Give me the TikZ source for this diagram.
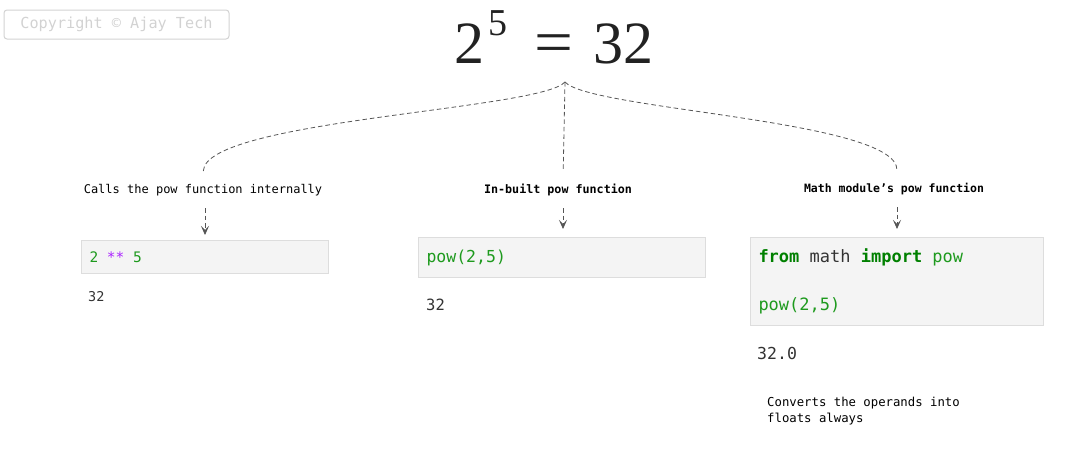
\documentclass[tikz,border=0pt]{standalone}
\usepackage{fontspec}
\setmainfont{Liberation Serif}
\setmonofont{DejaVu Sans Mono}[WordSpace={1,0,0}]
\usetikzlibrary{arrows.meta, positioning}
\definecolor{codebg}{HTML}{F4F4F4}
\definecolor{codeline}{HTML}{DDDDDD}
\definecolor{codegreen}{HTML}{1E9A1E}
\definecolor{kwgreen}{HTML}{008000}
\definecolor{oppurple}{HTML}{AA22FF}
\definecolor{plain}{HTML}{333333}
\definecolor{linkgray}{HTML}{555555}
\definecolor{markgray}{HTML}{D2D2D2}
\definecolor{eqgray}{HTML}{222222}
\tikzset{
  codebox/.style={rectangle, draw=codeline, fill=codebg, line width=1pt, anchor=north west,
                  inner xsep=8pt, align=left, font=\ttfamily,
                  execute at begin node={\spaceskip=0pt\xspaceskip=0pt\relax}},
  note/.style={font=\ttfamily\fontsize{12}{16}\selectfont, inner sep=2pt},
  result/.style={anchor=west, inner sep=0pt, text=plain, font=\ttfamily},
  link/.style={draw=linkgray, line width=0.8pt, dash pattern=on 4.5pt off 3pt},
  arrow/.style={link, -{Stealth[length=9pt, width=8pt, inset=4pt, fill=linkgray]}}
}

\begin{document}
\begin{tikzpicture}[x=1pt, y=-1pt]
\useasboundingbox (0,0) rectangle (1072,455);

% watermark
\node (mark) [draw=markgray, line width=1pt, rounded corners=3pt, minimum width=225pt, minimum height=29pt,
      text=markgray, font=\ttfamily\fontsize{15.2}{17}\selectfont] at (116.5,24.5) {Copyright © Ajay Tech};

% equation
\node (eq) [inner sep=0pt, anchor=base, text=eqgray, font=\fontsize{60}{60}\selectfont] at (554,63)
  {2\hspace{4pt}\raisebox{28pt}{\fontsize{38}{38}\selectfont 5}\hspace{27pt}\scalebox{1.15}[1.05]{=}\hspace{20pt}32};
\coordinate (fork) at (565,82);

% labels
\node (lbl1) [note] at (203,190) {Calls the pow function internally};
\node (lbl2) [note, font=\ttfamily\bfseries\fontsize{11.7}{16}\selectfont] at (558,190) {In-built pow function};
\node (lbl3) [note, font=\ttfamily\bfseries\fontsize{11.5}{16}\selectfont] at (894,189) {Math module’s pow function};

% code boxes
\node (box1) [codebox, minimum width=247pt, minimum height=33pt, text width=231pt,
      font=\ttfamily\fontsize{14.5}{18}\selectfont] at (81,240)
  {\textcolor{codegreen}{2} \textcolor{oppurple}{**} \textcolor{codegreen}{5}};
\node (box2) [codebox, minimum width=287pt, minimum height=40pt, text width=271pt,
      font=\ttfamily\fontsize{16.5}{20}\selectfont] at (418,237)
  {\textcolor{codegreen}{pow(2,5)}};
\node (box3) [codebox, minimum width=293pt, minimum height=88pt, text width=277pt,
      font=\ttfamily\fontsize{17}{48}\selectfont] at (750,237)
  {\textcolor{kwgreen}{\bfseries from} \textcolor{plain}{math} \textcolor{kwgreen}{\bfseries import} \textcolor{codegreen}{pow}\\
   \textcolor{codegreen}{pow(2,5)}};

% outputs
\node (res1) [result, font=\ttfamily\fontsize{13.5}{16}\selectfont] at (88,297) {32};
\node (res2) [result, font=\ttfamily\fontsize{15.5}{18}\selectfont] at (426,305) {32};
\node (res3) [result, font=\ttfamily\fontsize{16.5}{20}\selectfont] at (757,353) {32.0};
\node (remark) [note, anchor=north west, align=left, font=\ttfamily\fontsize{12.3}{16}\selectfont,
      execute at begin node={\spaceskip=0pt\xspaceskip=0pt\relax}] at (765,395)
  {Converts the operands into\\floats always};

% dashed branches
\draw [link, shorten >=11pt] (fork) .. controls (540,110) and (205,120) .. (lbl1.north);
\draw [link, shorten >=11pt] (fork) -- (lbl2.north -| 563,0);
\draw [link, shorten >=11pt] (fork) .. controls (590,110) and (897,120) .. (lbl3.north -| 897,0);

% arrows into boxes
\draw [arrow, shorten <=10pt, shorten >=5pt] (lbl1.south -| 205,0) -- (box1.north -| 205,0);
\draw [arrow, shorten <=10pt, shorten >=8pt] (lbl2.south -| 563,0) -- (box2.north -| 563,0);
\draw [arrow, shorten <=10pt, shorten >=8pt] (lbl3.south -| 897,0) -- (box3.north -| 897,0);
\end{tikzpicture}
\end{document}
